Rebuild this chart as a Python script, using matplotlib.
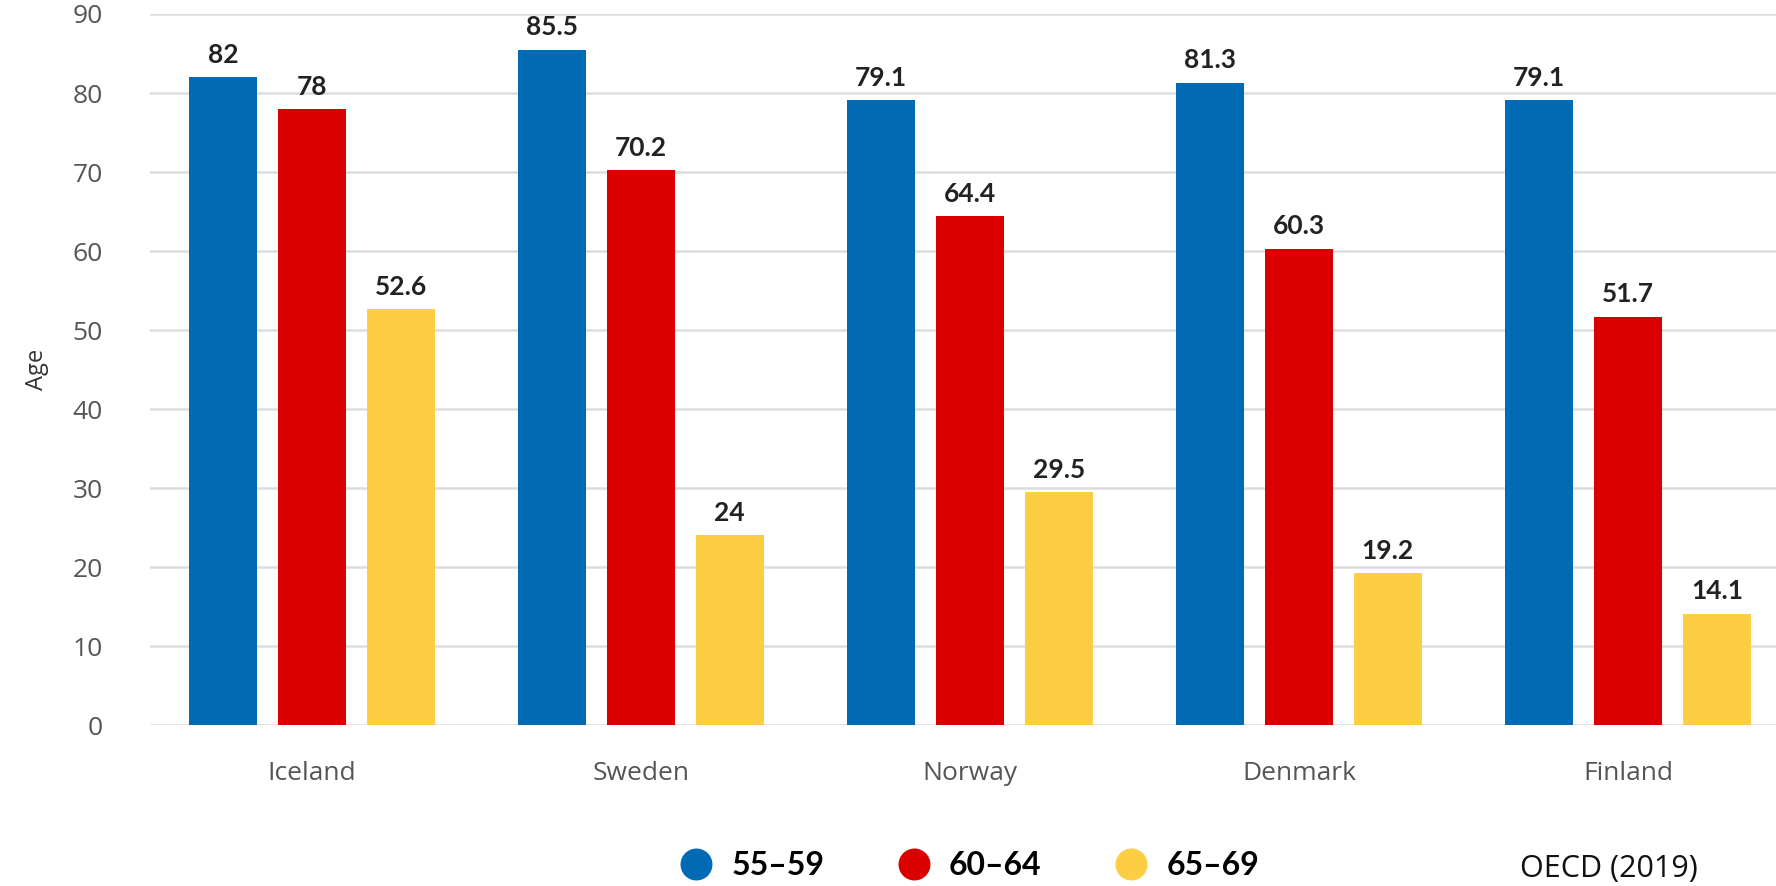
import numpy as np
import matplotlib
matplotlib.use("Agg")
import matplotlib.pyplot as plt
from matplotlib.lines import Line2D

plt.rcParams["font.family"] = ["Open Sans", "DejaVu Sans"]

countries = ["Iceland", "Sweden", "Norway", "Denmark", "Finland"]
age_groups = ["55–59", "60–64", "65–69"]
rate_55_59 = [82, 85.5, 79.1, 81.3, 79.1]
rate_60_64 = [78, 70.2, 64.4, 60.3, 51.7]
rate_65_69 = [52.6, 24, 29.5, 19.2, 14.1]
y_ticks = [0, 10, 20, 30, 40, 50, 60, 70, 80, 90]

colors = ["#006ab4", "#da0000", "#fdcd43"]
series = [rate_55_59, rate_60_64, rate_65_69]

fig = plt.figure(figsize=(17.76, 8.86), dpi=100)
ax = fig.add_axes([0.0845, 0.1817, 0.9155, 0.8025])

x = np.arange(len(countries))
width = 0.207
offset = 0.27

for i, (vals, col) in enumerate(zip(series, colors)):
    pos = x + (i - 1) * offset
    ax.bar(pos, vals, width=width, color=col, zorder=3)
    for px, v in zip(pos, vals):
        ax.text(px, v + 1.3, f"{v:g}", ha="center", va="bottom",
                fontsize=19, fontweight="bold", color="#222222",
                family=["Lato", "DejaVu Sans"])

ax.set_xlim(-0.492, 4.45)
ax.set_ylim(0, 90)
ax.set_yticks(y_ticks)
ax.set_xticks(x)
ax.set_xticklabels(countries)
ax.tick_params(axis="both", length=0, labelsize=19, labelcolor="#555555")
ax.tick_params(axis="y", pad=34)
ax.tick_params(axis="x", pad=26)
ax.yaxis.grid(True, color="#dddddd", linewidth=1.8, zorder=0)
for s in ax.spines.values():
    s.set_visible(False)
ax.set_ylabel("Age", fontsize=17, color="#333333")
ax.yaxis.set_label_coords(-0.062, 0.5)

handles = [Line2D([], [], marker="o", linestyle="none", markersize=22,
                  markerfacecolor=c, markeredgecolor=c) for c in colors]
fig.legend(handles, age_groups, loc="center", bbox_to_anchor=(0.546, 0.0226),
           ncol=3, frameon=False, handlelength=1.0, handletextpad=0.6,
           columnspacing=2.3,
           prop={"family": ["Lato", "DejaVu Sans"], "weight": "bold", "size": 23})

fig.text(0.856, 0.002, "OECD (2019)", fontsize=22, color="#111111",
         ha="left", va="bottom")

fig.savefig("out.png", dpi=100)
